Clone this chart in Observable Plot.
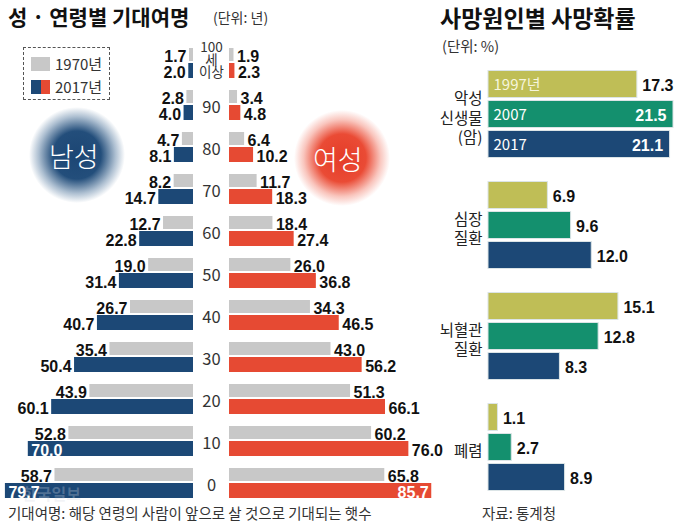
<!DOCTYPE html>
<html><head><meta charset="utf-8">
<script src="https://cdn.jsdelivr.net/npm/d3@7"></script>
<script src="https://cdn.jsdelivr.net/npm/@observablehq/plot@0.6"></script>
<style>
body{margin:0;background:#fff;}
#wrap{position:relative;width:680px;height:522px;overflow:hidden;font-family:"Noto Sans CJK KR","Noto Sans",sans-serif;color:#222;background:#fff;}
#wrap svg{position:absolute;left:0;top:0;overflow:visible;}
.abs{position:absolute;white-space:nowrap;line-height:1;font-family:"Noto Sans CJK KR","Noto Sans",sans-serif;}
.circle{position:absolute;border-radius:50%;}
</style></head><body>
<div id="wrap">
  <div class="abs" style="left:8px;top:6px;font-size:21px;font-weight:700;color:#111;">성 · 연령별 기대여명</div>
  <div class="abs" style="left:213px;top:10px;font-size:14px;color:#333;">(단위: 년)</div>
  <div class="abs" style="left:440px;top:5.5px;font-size:23px;font-weight:700;color:#111;">사망원인별 사망확률</div>
  <div class="abs" style="left:442px;top:39px;font-size:14.5px;color:#333;">(단위: %)</div>

  <div class="abs" style="left:23px;top:47px;width:85px;height:51px;border:1.5px dashed #555;"></div>
  <div class="abs" style="left:31px;top:57px;width:19px;height:14px;background:#c8c8c8;"></div>
  <div class="abs" style="left:55px;top:56px;font-size:15px;color:#333;">1970년</div>
  <div class="abs" style="left:31px;top:80px;width:10px;height:14px;background:#1c4876;"></div>
  <div class="abs" style="left:41px;top:80px;width:9px;height:14px;background:#e64a33;"></div>
  <div class="abs" style="left:55px;top:79px;font-size:15px;color:#333;">2017년</div>

  <div class="circle" style="left:29px;top:107px;width:96px;height:96px;background:radial-gradient(circle closest-side,#1c4674 0%,#234e7b 50%,rgba(50,95,140,0.4) 80%,rgba(60,100,150,0) 100%);"></div>
  <div class="abs" style="left:49px;top:142px;font-size:27px;font-weight:300;color:#fff;">남성</div>
  <div class="circle" style="left:294px;top:110px;width:96px;height:96px;background:radial-gradient(circle closest-side,#e43c28 0%,#ea4b35 50%,rgba(240,110,90,0.4) 80%,rgba(250,140,120,0) 100%);"></div>
  <div class="abs" style="left:313px;top:145px;font-size:27px;font-weight:300;color:#fff;">여성</div>

  <div class="abs" style="left:8px;top:506px;font-size:14.5px;color:#333;">기대여명: 해당 연령의 사람이 앞으로 살 것으로 기대되는 햇수</div>
  <div class="abs" style="left:482px;top:506px;font-size:14.5px;color:#333;">자료: 통계청</div>
</div>
<script>
// ---- data: life expectancy by sex & age ----
const ages = ["100","90","80","70","60","50","40","30","20","10","0"];
const ageLabels = ["100\n세\n이상","90","80","70","60","50","40","30","20","10","0"];
const male1970 = [1.7,2.8,4.7,8.2,12.7,19.0,26.7,35.4,43.9,52.8,58.7];
const male2017 = [2.0,4.0,8.1,14.7,22.8,31.4,40.7,50.4,60.1,70.0,79.7];
const female1970 = [1.9,3.4,6.4,11.7,18.4,26.0,34.3,43.0,51.3,60.2,65.8];
const female2017 = [2.3,4.8,10.2,18.3,27.4,36.8,46.5,56.2,66.1,76.0,85.7];

// ---- data: death probability by cause ----
const causes = ["악성신생물(암)","심장질환","뇌혈관질환","폐렴"];
const causeLabels = ["악성\n신생물\n(암)","심장\n질환","뇌혈관\n질환","폐렴"];
const years = ["1997","2007","2017"];
const yearLabels = ["1997년","2007","2017"];
const prob1997 = [17.3,6.9,15.1,1.1];
const prob2007 = [21.5,9.6,12.8,2.7];
const prob2017 = [21.1,12.0,8.3,8.9];

const grey = "#c8c8c8", blue = "#1c4876", red = "#e64a33";
const yearColors = ["#bfbe56","#14906e","#1c4876"];
const fmt = d3.format(".1f");
const cjk = "'Noto Sans CJK KR', 'Noto Sans', sans-serif";
const numStyle = {fontSize:16, fontWeight:"bold", fontFamily:"'Liberation Sans', Arial, sans-serif", fill:"#111"};
const wrap = document.getElementById("wrap");
const baseStyle = {background:"transparent", overflow:"visible", fontFamily:cjk};

const rows = ages.map((age,i)=>({age, label:ageLabels[i], m70:male1970[i], m17:male2017[i], f70:female1970[i], f17:female2017[i]}));
const PX = 2.36;
const yAge = {type:"band", domain:ages, range:[42,504], padding:0, axis:null};

const male = Plot.plot({
  width:680, height:522, marginLeft:193, marginRight:451, marginTop:0, marginBottom:0,
  style:baseStyle,
  x:{domain:[0,80], range:[193, 193-80*PX], axis:null},
  y:yAge,
  marks:[
    Plot.barX(rows,{x:"m70", y:"age", fill:grey, insetTop:6, insetBottom:23}),
    Plot.barX(rows,{x:"m17", y:"age", fill:blue, insetTop:21, insetBottom:6}),
    Plot.text(rows,{x:"m70", y:"age", text:d=>fmt(d.m70), textAnchor:"end", dx:-3, dy:-7, ...numStyle}),
    Plot.text(rows.filter(d=>d.m17<65),{x:"m17", y:"age", text:d=>fmt(d.m17), textAnchor:"end", dx:-3, dy:9, ...numStyle}),
    Plot.text(rows.filter(d=>d.m17>=65),{x:"m17", y:"age", text:d=>fmt(d.m17), textAnchor:"start", dx:3, dy:9, ...numStyle, fill:"white"}),
    Plot.text(rows.filter(d=>d.age!=="100"),{y:"age", text:"label", frameAnchor:"middle", dy:2, fontSize:16.5, fontFamily:cjk, fill:"#333"}),
    Plot.text(rows.filter(d=>d.age==="100"),{y:"age", text:"label", frameAnchor:"middle", dy:-3, fontSize:13.5, lineHeight:0.93, fontFamily:cjk, fill:"#333"})
  ]
});
wrap.appendChild(male);

const female = Plot.plot({
  width:680, height:522, marginLeft:0, marginRight:0, marginTop:0, marginBottom:0,
  style:baseStyle,
  x:{domain:[0,90], range:[229, 229+90*PX], axis:null},
  y:yAge,
  marks:[
    Plot.barX(rows,{x:"f70", y:"age", fill:grey, insetTop:6, insetBottom:23}),
    Plot.barX(rows,{x:"f17", y:"age", fill:red, insetTop:21, insetBottom:6}),
    Plot.text(rows,{x:"f70", y:"age", text:d=>fmt(d.f70), textAnchor:"start", dx:3, dy:-7, ...numStyle}),
    Plot.text(rows.filter(d=>d.f17<80),{x:"f17", y:"age", text:d=>fmt(d.f17), textAnchor:"start", dx:3, dy:9, ...numStyle}),
    Plot.text(rows.filter(d=>d.f17>=80),{x:"f17", y:"age", text:d=>fmt(d.f17), textAnchor:"end", dx:-3, dy:9, ...numStyle, fill:"white"})
  ]
});
wrap.appendChild(female);

// ---- right chart ----
const probs = [prob1997, prob2007, prob2017];
const rightMarks = [];
const labelRows = causes.map((c,i)=>({cause:c, label:causeLabels[i]}));
rightMarks.push(Plot.text(labelRows,{y:"cause", text:"label", frameAnchor:"left", textAnchor:"end", dx:-6, dy:3, fontSize:15.5, lineHeight:1.25, fontFamily:cjk, fill:"#222"}));
years.forEach((yr,j)=>{
  const data = causes.map((c,i)=>({cause:c, value:probs[j][i], idx:i}));
  const top = 1.5 + 30*j, bottom = 61.5 - 30*j, dy = 30*j - 30;
  rightMarks.push(Plot.barX(data,{x:"value", y:"cause", fill:yearColors[j], stroke:"#dbe4e6", strokeWidth:1, insetTop:top, insetBottom:bottom}));
  rightMarks.push(Plot.text(data.filter(d=>d.idx===0),{y:"cause", text:()=>yearLabels[j], frameAnchor:"left", textAnchor:"start", dx:5, dy:dy+1, fontSize:15, fontFamily:cjk, fill: j===0 ? "#f6f5dc" : "#ffffff"}));
  rightMarks.push(Plot.text(data.filter(d=>d.value<20),{x:"value", y:"cause", text:d=>fmt(d.value), textAnchor:"start", dx:5, dy:dy+1, ...numStyle}));
  rightMarks.push(Plot.text(data.filter(d=>d.value>=20),{x:"value", y:"cause", text:d=>fmt(d.value), textAnchor:"end", dx:-7, dy:dy+1, ...numStyle, fill:"white"}));
});
const right = Plot.plot({
  width:680, height:522, marginLeft:488, marginRight:7, marginTop:69, marginBottom:30,
  style:baseStyle,
  x:{domain:[0,21.5], axis:null},
  y:{domain:causes, paddingInner:0.19, paddingOuter:0, axis:null},
  marks:rightMarks
});
wrap.appendChild(right);

const wm = document.createElement("div");
wm.className = "abs";
wm.style.cssText = "left:22px;top:485px;font-size:16px;font-weight:700;color:rgba(210,215,225,0.28);";
wm.textContent = "한국일보";
wrap.appendChild(wm);
</script>
</body></html>
